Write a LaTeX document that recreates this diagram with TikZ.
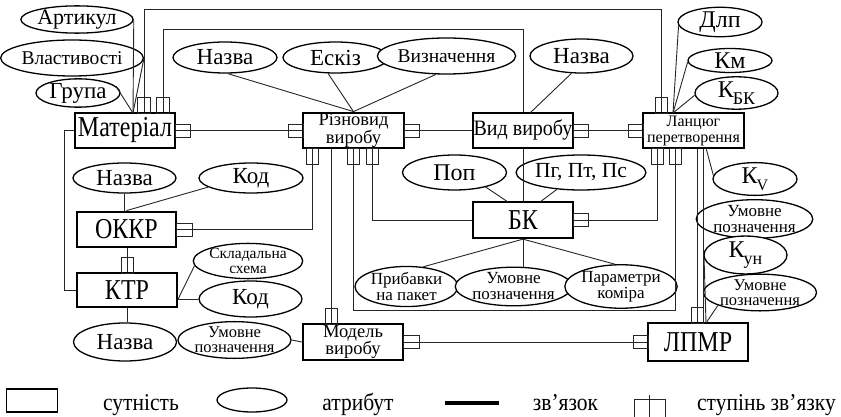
\documentclass[tikz,border=0pt]{standalone}
\usepackage{graphicx}
\usepackage{fontspec}
\setmainfont{Liberation Serif}
\usetikzlibrary{shapes.geometric,calc}
\newcommand{\fsz}[2]{\fontsize{#1}{#2}\selectfont}
\newcommand{\entlbl}[1]{\scalebox{1}[1.2]{#1}}
\newcommand{\lgndlbl}[1]{\scalebox{1}[1.12]{#1}}
\begin{document}
\begin{tikzpicture}[x=1pt,y=-1pt,
  ent/.style={draw,line width=2.3pt,fill=white,inner sep=0pt,align=center,minimum width=100pt,minimum height=35.5pt},
  attr/.style={ellipse,draw,line width=1.3pt,fill=white,inner sep=0pt,align=center},
  conn/.style={line width=0.9pt,black!85},
  mk/.style={line width=0.8pt,black!85},
  lgtext/.style={font=\fsz{21.5}{21.5},anchor=base,inner sep=0pt}]
\useasboundingbox (0,0) rectangle (841,417);

% ---------- entities ----------
\node[ent,font=\fsz{24}{24}] (mat) at (125,130.5) {\entlbl{Матеріал}};
\node[ent,minimum width=101pt,font=\fsz{18.5}{16}] (rizn) at (353.5,130.5) {Різновид\\виробу};
\node[ent,font=\fsz{20}{20}] (vyd) at (523,130.5) {\scalebox{1}[1.1]{Вид виробу}};
\node[ent,minimum width=101pt,font=\fsz{16}{16}] (lanc) at (693.5,130.5) {Ланцюг\\перетворення};
\node[ent,minimum width=99pt,font=\fsz{24}{24}] (okkr) at (126.5,229.5) {\entlbl{ОККР}};
\node[ent,minimum height=34pt,font=\fsz{24}{24}] (ktr) at (127,290) {\entlbl{КТР}};
\node[ent,minimum height=36pt,font=\fsz{24}{24}] (bk) at (523,220) {\entlbl{БК}};
\node[ent,minimum height=36pt,font=\fsz{18.5}{16}] (model) at (353,342) {Модель\\виробу};
\node[ent,minimum height=38pt,font=\fsz{24}{24}] (lpmr) at (698,342) {\entlbl{ЛПМР}};

% ---------- attributes ----------
\node[attr,minimum width=94pt,minimum height=27pt,font=\fsz{22}{22}] (art) at (77,19.5) {Артикул};
\node[attr,minimum width=104pt,minimum height=36pt,font=\fsz{19.5}{19.5}] (vlast) at (72,58) {Властивості};
\node[attr,minimum width=84pt,minimum height=28pt,font=\fsz{23}{23}] (grupa) at (78,93) {Група};
\node[attr,minimum width=104pt,minimum height=31pt,font=\fsz{23}{23}] (nazva1) at (225,57.5) {Назва};
\node[attr,minimum width=105pt,minimum height=31pt,font=\fsz{23}{23}] (eskiz) at (335.5,57.5) {Ескіз};
\node[attr,minimum width=103pt,minimum height=36pt,font=\fsz{19.5}{19.5}] (vyzn) at (446.5,56) {Визначення};
\node[attr,minimum width=103pt,minimum height=34pt,font=\fsz{23}{23}] (nazva2) at (581.5,56) {Назва};
\node[attr,minimum width=84pt,minimum height=26pt,font=\fsz{24}{24}] (dlp) at (720,22) {Длп};
\node[attr,minimum width=84pt,minimum height=24pt,font=\fsz{24}{24}] (km) at (730,60.5) {Км};
\node[attr,minimum width=83pt,minimum height=26pt,font=\fsz{24}{24}] (kbk) at (736.5,93) {К\kern-1pt\raisebox{-0.3em}{\fsz{18}{18}БК}};
\node[attr,minimum width=103pt,minimum height=30pt,font=\fsz{23}{23}] (nazva3) at (124.5,178) {Назва};
\node[attr,minimum width=104pt,minimum height=30pt,font=\fsz{23}{23}] (kod1) at (251,178) {Код};
\node[attr,minimum width=104pt,minimum height=30pt,font=\fsz{15.5}{14.5}] (sklad) at (248,261) {Складальна\\схема};
\node[attr,minimum width=103pt,minimum height=36pt,font=\fsz{23}{23}] (kod2) at (250.5,299) {Код};
\node[attr,minimum width=103pt,minimum height=38pt,font=\fsz{23}{23}] (nazva4) at (125,342) {Назва};
\node[attr,minimum width=103pt,minimum height=32pt,font=\fsz{16.5}{15}] (umov1) at (234.5,340) {Умовне\\позначення};
\node[attr,minimum width=104pt,minimum height=35pt,font=\fsz{24}{24}] (pop) at (454.5,172.5) {Поп};
\node[attr,minimum width=106pt,minimum height=35pt,font=\fsz{21.5}{21.5}] (pg) at (581,172.5) {Пг, Пт, Пс};
\node[attr,minimum width=103pt,minimum height=37pt,font=\fsz{17}{16}] (prib) at (406.5,286.5) {Прибавки\\на пакет};
\node[attr,minimum width=103pt,minimum height=37pt,font=\fsz{17}{16}] (umov2) at (513.5,286.5) {Умовне\\позначення};
\node[attr,minimum width=104pt,minimum height=37pt,font=\fsz{17}{16}] (param) at (621,286.5) {Параметри\\коміра};
\node[attr,minimum width=84pt,minimum height=28pt,font=\fsz{24}{24}] (kv) at (755,179) {К\kern-1pt\raisebox{-0.3em}{\fsz{16}{16}V}};
\node[attr,minimum width=103pt,minimum height=36pt,font=\fsz{17}{16}] (umov3) at (754.5,219) {Умовне\\позначення};
\node[attr,minimum width=83pt,minimum height=26pt,font=\fsz{24}{24}] (kun) at (745.5,255) {К\kern-1pt\raisebox{-0.3em}{\fsz{18}{18}ун}};
\node[attr,minimum width=104pt,minimum height=30pt,font=\fsz{16.5}{15}] (umov4) at (760,292.5) {Умовне\\позначення};

% ---------- helper coordinates ----------
\coordinate (r1a) at (144,9);
\coordinate (r1b) at (661,9);
\coordinate (r2a) at (163,29);
\coordinate (l2) at (64,290);
\coordinate (b1) at (312,0);
\coordinate (b2) at (331,0);
\coordinate (b3) at (353,310);
\coordinate (b3b) at (675,310);
\coordinate (b4) at (372,0);
\coordinate (b5) at (657,0);
\coordinate (b6) at (697,0);
\coordinate (b7) at (703,0);
\coordinate (ma) at (133,113);
\coordinate (la) at (673,113);
\coordinate (va) at (530,113);
\coordinate (bp1) at (508,202);
\coordinate (bp2) at (540,202);
\coordinate (lk) at (706,148);
\coordinate (lpk) at (706,323);

% ---------- relationship connectors ----------
\draw[conn] (mat.north -| r1a) -- (r1a) -- (r1b) -- (lanc.north -| r1b);
\draw[conn] (mat.north -| r2a) -- (r2a) -| (vyd.north);
\draw[conn] (vyd.south) -- (bk.north);
\draw[conn] (mat.east) -- (rizn.west);
\draw[conn] (rizn.east) -- (vyd.west);
\draw[conn] (vyd.east) -- (lanc.west);
\draw[conn] (mat.west) -| (l2) -- (ktr.west);
\draw[conn] (ktr.north |- okkr.south) -- (ktr.north);
\draw[conn] (rizn.south -| b1) |- (okkr.east);
\draw[conn] (rizn.south -| b2) -- (model.north -| b2);
\draw[conn] (rizn.south -| b3) -- (b3) -- (b3b) -- (lanc.south -| b3b);
\draw[conn] (rizn.south -| b4) |- (bk.west);
\draw[conn] (bk.east) -| (lanc.south -| b5);
\draw[conn] (lanc.south -| b6) -- (lpmr.north -| b6);
\draw[conn] (lanc.south -| b7) -- (lpmr.north -| b7);
\draw[conn] (model.east) -- (lpmr.west);

% ---------- attribute connectors ----------
\draw[conn] (art.east) -- (ma);
\draw[conn] (vlast.east) -- (ma);
\draw[conn] (grupa.10) -- (ma);
\draw[conn] (nazva1.-80) -- (rizn.north);
\draw[conn] (eskiz.-115) -- (rizn.north);
\draw[conn] (vyzn.-120) -- (rizn.north);
\draw[conn] (nazva2.-120) -- (va);
\draw[conn] (dlp.-175) -- (la);
\draw[conn] (km.-178) -- (la);
\draw[conn] (kbk.-177) -- (la);
\draw[conn] (nazva3.south) -- (nazva3.south |- okkr.north);
\draw[conn] (kod1.-168) -- (okkr.north);
\draw[conn] (sklad.-175) -- (ktr.east |- kod2.west);
\draw[conn] (kod2.west) -- (ktr.east |- kod2.west);
\draw[conn] (ktr.south) -- (ktr.south |- nazva4.north);
\draw[conn] (umov1.east) -- (model.west);
\draw[conn] (pop.-25) -- (bp1);
\draw[conn] (pg.-145) -- (bp2);
\draw[conn] (prib.50) -- (bk.south);
\draw[conn] (bk.south) -- (bk.south |- umov2.north);
\draw[conn] (param.105) -- (bk.south);
\draw[conn] (kv.175) -- (lk);
\draw[conn] (kun.-175) -- (lpk);
\draw[conn] (umov4.-163) -- (lpk);

% ---------- degree markers ----------
\draw[mk] (137.5,97) rectangle (150.5,113);
\draw[mk] (156.5,97) rectangle (169.5,113);
\draw[mk] (175,124) rectangle (190,137);
\draw[mk] (288,124) rectangle (303,137);
\draw[mk] (404,124) rectangle (419,137);
\draw[mk] (573,124) rectangle (588,137);
\draw[mk] (628,124) rectangle (643,137);
\draw[mk] (655,97) rectangle (667,113);
\draw[mk] (306,148) rectangle (318,164);
\draw[mk] (347,148) rectangle (359,164);
\draw[mk] (366,148) rectangle (378,164);
\draw[mk] (651,148) rectangle (663,164);
\draw[mk] (669,148) rectangle (681,164);
\draw[mk] (176,223) rectangle (192,236);
\draw[mk] (121,257) rectangle (133,273);
\draw[mk] (573,213.5) rectangle (588,226.5);
\draw[mk] (325,308) rectangle (337,324);
\draw[mk] (403,335.5) rectangle (419,348.5);
\draw[mk] (633,335.5) rectangle (648,348.5);
\draw[mk] (691,307) rectangle (703,323);

% ---------- legend ----------
\node[draw,line width=1.6pt,inner sep=0pt,minimum width=51pt,minimum height=23pt] (lgent) at (32,400.5) {};
\node[lgtext] (lgt1) at (141,410.5) {\lgndlbl{сутність}};
\node[ellipse,draw,line width=1.3pt,inner sep=0pt,minimum width=70pt,minimum height=24pt] (lgattr) at (252,400) {};
\node[lgtext] (lgt2) at (358,410.5) {\lgndlbl{атрибут}};
\coordinate (lgl1) at (445,402.5);
\coordinate (lgl2) at (499,402.5);
\draw[line width=4pt] (lgl1) -- (lgl2);
\node[lgtext] (lgt3) at (565.5,410.5) {\lgndlbl{зв’язок}};
\draw[mk] (634,417) -- (634,399) -- (665,399) -- (665,417);
\draw[mk] (649,395) -- (649,417);
\node[lgtext] (lgt4) at (766.5,410.5) {\lgndlbl{ступінь зв’язку}};
\end{tikzpicture}
\end{document}
